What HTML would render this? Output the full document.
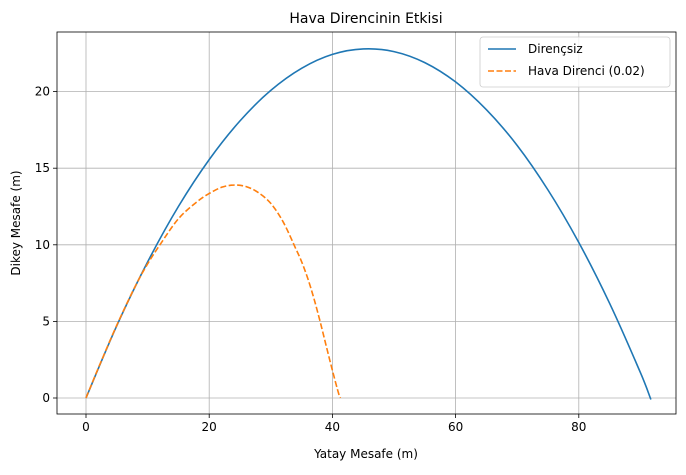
<!DOCTYPE html>
<html><head><meta charset="utf-8"><style>
body{margin:0;background:#fff;font-family:"Liberation Sans","DejaVu Sans",sans-serif;}
svg text{font-family:"DejaVu Sans","Liberation Sans",sans-serif;}
</style></head><body>
<svg id="chart" width="686" height="470" xmlns="http://www.w3.org/2000/svg"></svg>
<script>
const xTicks=[0,20,40,60,80];
const yTicks=[0,5,10,15,20];
const blueX=[0,5,10,15,20,25,30,35,40,45,50,55,60,65,70,75,80,85,90,91.7];
const blueY=[0,4.72,8.88,12.5,15.56,18.09,20.08,21.52,22.43,22.79,22.61,21.89,20.63,18.82,16.48,13.58,10.15,6.18,1.66,-0.1];
const orangeX=[0,2,5,8,10,12,15,18,20,22,24,26,28,30,32,34,35,36,37,38,39,40,41,41.3];
const orangeY=[0,1.95,4.75,7.3,8.75,10.0,11.7,12.8,13.35,13.75,13.9,13.8,13.4,12.7,11.5,9.8,8.9,7.8,6.5,5.0,3.4,1.8,0.3,0];
const L=57,R=676,T=32,B=414;
const sx=v=>86+v*6.16;
const sy=v=>398-v*15.32;
const svg=document.getElementById('chart');
const NS='http://www.w3.org/2000/svg';
function mk(tag,attrs,parent){const e=document.createElementNS(NS,tag);for(const k in attrs)e.setAttribute(k,attrs[k]);(parent||svg).appendChild(e);return e;}
xTicks.forEach(v=>{const g=mk('line',{x1:sx(v),x2:sx(v),y1:T,y2:B,stroke:'#b0b0b0','stroke-width':0.8});


const t=mk('line',{x1:sx(v),x2:sx(v),y1:B,y2:B+4,stroke:'#000','stroke-width':0.8});


const l=mk('text',{x:sx(v),y:B+17,'font-size':12,'text-anchor':'middle'});l.textContent=v;

});
yTicks.forEach(v=>{const g=mk('line',{x1:L,x2:R,y1:sy(v),y2:sy(v),stroke:'#b0b0b0','stroke-width':0.8});


const t=mk('line',{x1:L-4,x2:L,y1:sy(v),y2:sy(v),stroke:'#000','stroke-width':0.8});


const l=mk('text',{x:L-7,y:sy(v)+4,'font-size':12,'text-anchor':'end'});l.textContent=v;

});
function smooth(xs,ys){
  const p=xs.map((x,i)=>[sx(x),sy(ys[i])]);
  let d='M'+p[0][0].toFixed(1)+','+p[0][1].toFixed(1);
  for(let i=0;i<p.length-1;i++){
    const p0=p[Math.max(0,i-1)],p1=p[i],p2=p[i+1],p3=p[Math.min(p.length-1,i+2)];
    const c1=[p1[0]+(p2[0]-p0[0])/6,p1[1]+(p2[1]-p0[1])/6];
    const c2=[p2[0]-(p3[0]-p1[0])/6,p2[1]-(p3[1]-p1[1])/6];
    d+=' C'+c1[0].toFixed(1)+','+c1[1].toFixed(1)+' '+c2[0].toFixed(1)+','+c2[1].toFixed(1)+' '+p2[0].toFixed(1)+','+p2[1].toFixed(1);
  }
  return d;
}
const b=mk('path',{d:smooth(blueX,blueY),fill:'none',stroke:'#1f77b4','stroke-width':1.6,'stroke-linejoin':'round'});


const o=mk('path',{d:smooth(orangeX,orangeY),fill:'none',stroke:'#ff7f0e','stroke-width':1.6,'stroke-dasharray':'6,2.5'});


const fr=mk('rect',{x:L,y:T,width:R-L,height:B-T,fill:'none',stroke:'#000','stroke-width':0.8});


const title=mk('text',{x:366,y:23,'font-size':14,'text-anchor':'middle'});title.textContent='Hava Direncinin Etkisi';


const xl=mk('text',{x:366,y:458,'font-size':12,'text-anchor':'middle'});xl.textContent='Yatay Mesafe (m)';


const yl=mk('text',{x:20,y:223,'font-size':12,'text-anchor':'middle',transform:'rotate(-90 20 223)'});yl.textContent='Dikey Mesafe (m)';


const lg=mk('g',{});


mk('rect',{x:480,y:37,width:190,height:50,rx:3,fill:'#fff','fill-opacity':0.8,stroke:'#ccc','stroke-width':0.8},lg);
const e1=mk('line',{x1:488,x2:516,y1:49,y2:49,stroke:'#1f77b4','stroke-width':1.6},lg);


const t1=mk('text',{x:528,y:53,'font-size':12},lg);t1.textContent='Dirençsiz';
const e2=mk('line',{x1:488,x2:516,y1:71,y2:71,stroke:'#ff7f0e','stroke-width':1.6,'stroke-dasharray':'6,2.5'},lg);


const t2=mk('text',{x:528,y:75,'font-size':12},lg);t2.textContent='Hava Direnci (0.02)';
</script>
</body></html>
